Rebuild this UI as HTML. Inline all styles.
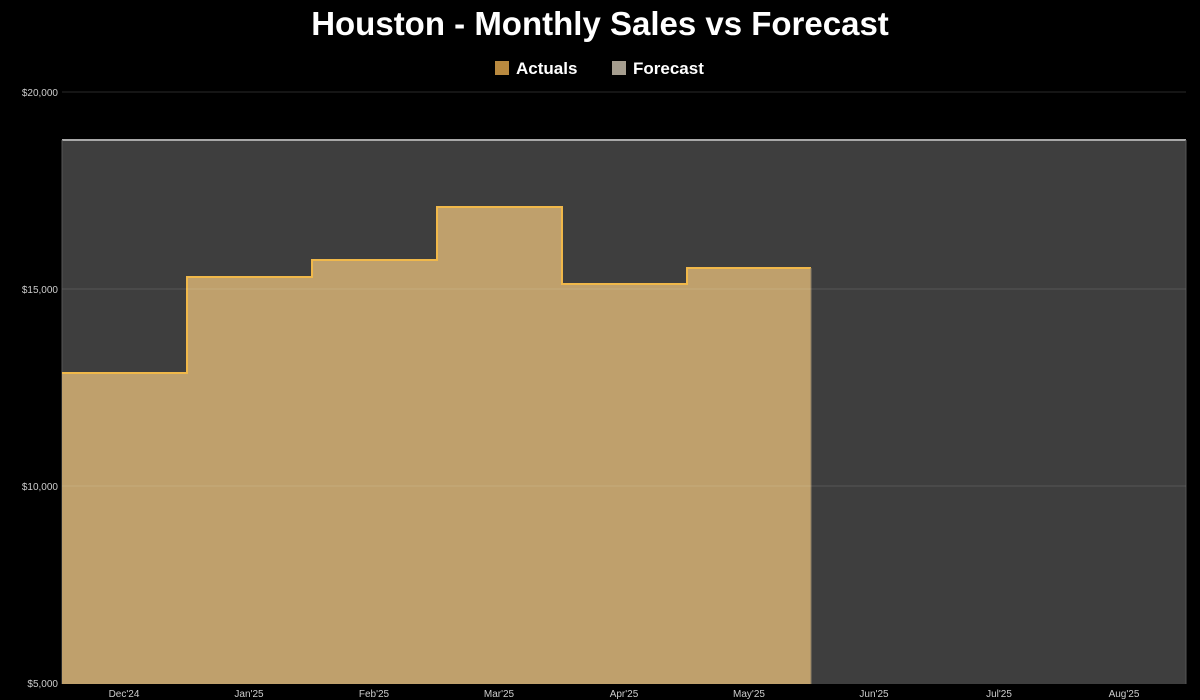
<!DOCTYPE html>
<html><head><meta charset="utf-8"><style>
html,body{margin:0;padding:0;background:#000;width:1200px;height:700px;overflow:hidden}
</style></head><body>
<svg width="1200" height="700" xmlns="http://www.w3.org/2000/svg" style="display:block">
<rect width="1200" height="700" fill="#000"/>
<text x="600" y="35" text-anchor="middle" font-family="'Liberation Sans',sans-serif" font-weight="bold" font-size="33" fill="#fff">Houston - Monthly Sales vs Forecast</text>
<rect x="495" y="61" width="14" height="14" fill="#b8893f"/>
<text x="516" y="74" font-family="'Liberation Sans',sans-serif" font-weight="bold" font-size="17" fill="#fff">Actuals</text>
<rect x="612" y="61" width="14" height="14" fill="#a59d8e"/>
<text x="633" y="74" font-family="'Liberation Sans',sans-serif" font-weight="bold" font-size="17" fill="#fff">Forecast</text>
<line x1="62" y1="92" x2="1186" y2="92" stroke="#2a2a2a" stroke-width="1"/>
<rect x="62" y="140" width="1124" height="544" fill="#3e3e3e"/>
<line x1="62" y1="140" x2="1186" y2="140" stroke="#a8a8a8" stroke-width="2"/>
<line x1="62" y1="140" x2="62" y2="684" stroke="#555" stroke-width="1"/>
<line x1="1186" y1="140" x2="1186" y2="684" stroke="#555" stroke-width="1"/>
<path d="M62,684 V373 H187 V277 H312 V260 H437 V207 H562 V284 H687 V268 H811 V684 Z" fill="#bfa06c"/>
<path d="M62,373 H187 V277 H312 V260 H437 V207 H562 V284 H687 V268 H811" fill="none" stroke="#f0b84a" stroke-width="2"/>
<line x1="811" y1="268" x2="811" y2="684" stroke="#8a7d66" stroke-width="1"/>
<line x1="62" y1="289" x2="1186" y2="289" stroke="#fff" stroke-opacity="0.12" stroke-width="1"/>
<line x1="62" y1="486" x2="1186" y2="486" stroke="#fff" stroke-opacity="0.12" stroke-width="1"/>
<g font-family="'Liberation Sans',sans-serif" font-size="10" fill="#ccc" text-anchor="end">
<text x="58" y="96">$20,000</text>
<text x="58" y="293">$15,000</text>
<text x="58" y="490">$10,000</text>
<text x="58" y="687">$5,000</text>
</g>
<g font-family="'Liberation Sans',sans-serif" font-size="10" fill="#ccc" text-anchor="middle">
<text x="124" y="697">Dec'24</text>
<text x="249" y="697">Jan'25</text>
<text x="374" y="697">Feb'25</text>
<text x="499" y="697">Mar'25</text>
<text x="624" y="697">Apr'25</text>
<text x="749" y="697">May'25</text>
<text x="874" y="697">Jun'25</text>
<text x="999" y="697">Jul'25</text>
<text x="1124" y="697">Aug'25</text>
</g>
</svg>
</body></html>
